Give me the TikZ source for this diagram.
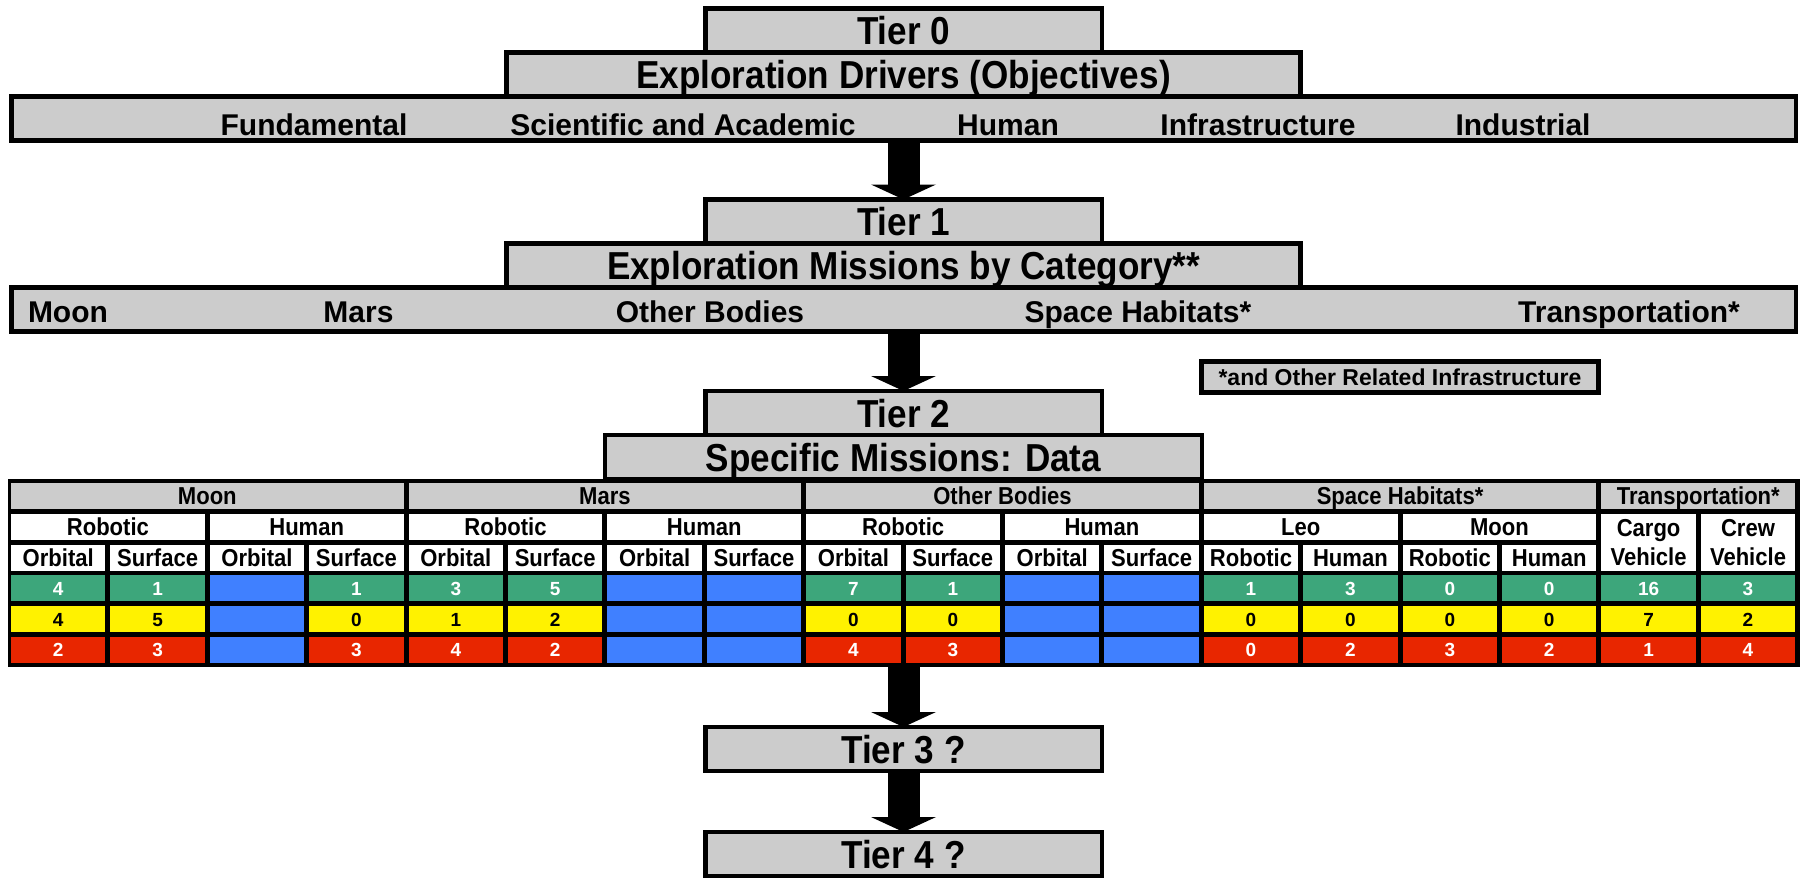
\documentclass[tikz,border=0pt]{standalone}
\usepackage{fontspec}
\setmainfont{Liberation Sans}
\newfontfamily\tallfont{Liberation Sans}[FakeStretch=0.9]
\usetikzlibrary{positioning}
\usetikzlibrary{arrows.meta}

\definecolor{boxgray}{RGB}{204,204,204}
\definecolor{cgreen}{RGB}{61,166,123}
\definecolor{cyellow}{RGB}{255,242,0}
\definecolor{cred}{RGB}{232,38,0}
\definecolor{cblue}{RGB}{64,128,255}

\begin{document}
\begin{tikzpicture}[x=1pt,y=-1pt,
            node distance = 0pt,
            every node/.style = {outer sep=0pt},
            tier/.style = {draw,line width=4.5pt,fill=boxgray,inner sep=0pt,
                minimum width=396.5pt,minimum height=44pt,
                font=\tallfont\bfseries\fontsize{39}{44}\selectfont,
                text height=28pt,text depth=0pt},
            wide/.style = {tier,minimum width=794pt},
            bar/.style = {tier,minimum width=1784.5pt},
            bartext/.style = {anchor=base,inner sep=0pt,
                font=\bfseries\fontsize{30}{34}\selectfont},
            cell/.style = {inner sep=0pt,minimum width=94.4pt,minimum height=26pt,
                font=\bfseries\fontsize{19}{22}\selectfont,
                text height=13.6pt,text depth=0pt},
            hdrbase/.style = {inner sep=0pt,fill=white,minimum width=94.4pt,minimum height=26pt,
                font=\tallfont\bfseries\fontsize{24.5}{29}\selectfont},
            hdr/.style = {hdrbase,text height=17.5pt,text depth=0pt},
            grp/.style = {hdr,fill=boxgray},
            bigarrow/.style = {line width=32pt,
                -{Triangle[length=15pt,width=65pt,line width=0pt]}}]
            \useasboundingbox (0,0) rectangle (1807,879);
            % tier 0
            \node[tier] (t0) at (903.5,30.5) {Tier 0};
            \node[wide,below=of t0] (drv) {Exploration Drivers (Objectives)};
            \node[bar,below=of drv] (bar0) {};
            \node[bartext] (fund) at (314,135) {Fundamental};
            \node[bartext] (sci) at (683,135) {Scientific and Academic};
            \node[bartext] (hum) at (1008,135) {Human};
            \node[bartext] (infra) at (1258,135) {Infrastructure};
            \node[bartext] (indu) at (1523,135) {Industrial};
            % tier 1
            \node[tier] (t1) at (903.5,221.5) {Tier 1};
            \node[wide,below=of t1] (cat) {Exploration Missions by Category**};
            \node[bar,below=of cat] (bar1) {};
            \node[bartext,anchor=base west] (moon) at (28,322) {Moon};
            \node[bartext] (mars) at (358.5,322) {Mars};
            \node[bartext] (other) at (710,322) {Other Bodies};
            \node[bartext] (hab) at (1138,322) {Space Habitats*};
            \node[bartext] (trans) at (1629,322) {Transportation*};
            \node[draw,line width=4.5pt,fill=boxgray,inner sep=0pt,
                minimum width=397pt,minimum height=31pt,
                font=\bfseries\fontsize{23}{26}\selectfont] (note) at (1400,377)
                {*and Other Related Infrastructure};
            % tier 2
            \node[tier] (t2) at (903.5,413) {Tier 2};
            \node[tier,minimum width=597pt,below=of t2] (spec) {Specific Missions: Data};
            \node[fill=black,inner sep=0pt,minimum width=1792pt,minimum height=188pt]
                (tab) at (903.5,573) {};
            \foreach \col/\ncol/\txt in {0/4/Moon,4/4/Mars,8/4/Other Bodies,
                    12/4/Space Habitats*,16/2/Transportation*}
                \node[grp,minimum width={94.4+99.4*(\ncol-1)}] (g\col)
                    at ({58.2+99.4*(\col+(\ncol-1)/2)},496) {\txt};
            \foreach \col/\txt in {0/Robotic,2/Human,4/Robotic,6/Human,
                    8/Robotic,10/Human,12/Leo,14/Moon}
                \node[hdr,minimum width=193.8pt] (s\col)
                    at ({58.2+99.4*(\col+0.5)},526.8) {\txt};
            \foreach \txt [count=\col from 0] in {Orbital,Surface,Orbital,Surface,
                    Orbital,Surface,Orbital,Surface,Orbital,Surface,Orbital,Surface,
                    Robotic,Human,Robotic,Human}
                \node[hdr] (o\col) at ({58.2+99.4*\col},557.6) {\txt};
            \node[hdrbase,minimum height=56.8pt,align=center] (cargo)
                at ({58.2+99.4*16},542.2) {Cargo\\Vehicle};
            \node[hdrbase,minimum height=56.8pt,align=center] (crew)
                at ({58.2+99.4*17},542.2) {Crew\\Vehicle};
            % data rows, -1 = no data
            \foreach \rw/\fc/\tc/\vals in {
                    3/cgreen/white/{4,1,-1,1,3,5,-1,-1,7,1,-1,-1,1,3,0,0,16,3},
                    4/cyellow/black/{4,5,-1,0,1,2,-1,-1,0,0,-1,-1,0,0,0,0,7,2},
                    5/cred/white/{2,3,-1,3,4,2,-1,-1,4,3,-1,-1,0,2,3,2,1,4}}
                \foreach \val [count=\col from 0] in \vals {
                    \ifnum\val<0
                        \node[cell,fill=cblue] (d\rw-\col)
                            at ({58.2+99.4*\col},{496+30.8*\rw}) {};
                    \else
                        \node[cell,fill=\fc,text=\tc] (d\rw-\col)
                            at ({58.2+99.4*\col},{496+30.8*\rw}) {\val};
                    \fi
                };
            % tiers 3 and 4
            \node[tier] (t3) at (903.5,749) {Tier 3 ?};
            \node[tier] (t4) at (903.5,854) {Tier 4 ?};
            \path[bigarrow]
                (bar0) edge (t1)
                (bar1) edge (t2)
                (tab) edge (t3)
                (t3) edge (t4);
\end{tikzpicture}
\end{document}
